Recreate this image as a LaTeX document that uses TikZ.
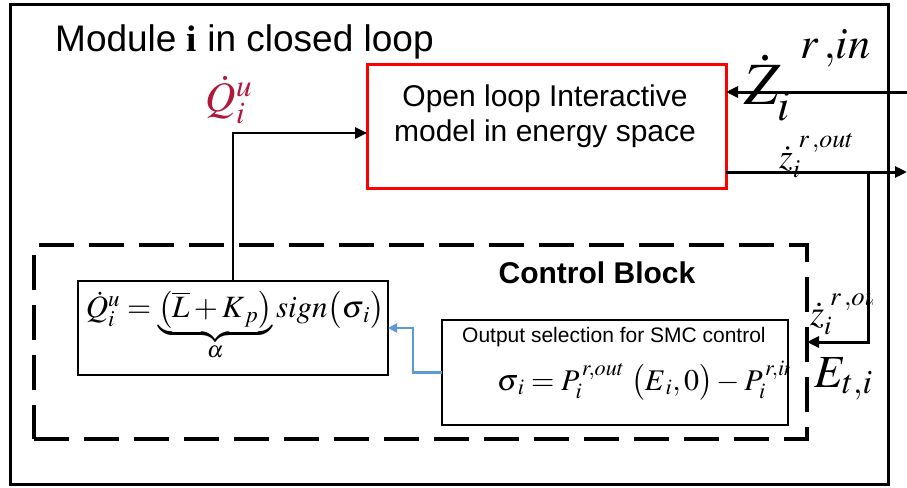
\documentclass[tikz,border=0pt]{standalone}
\usepackage{mathptmx}
\usepackage[no-math]{fontspec}
\setmainfont{Liberation Sans}
\newfontfamily\serifbf{Liberation Serif}
\usetikzlibrary{arrows.meta}
\definecolor{qred}{RGB}{176,24,58}
\definecolor{sblue}{RGB}{91,155,213}
\newcommand{\hisup}[2]{\raisebox{#1}{$\scriptstyle #2$}}
\begin{document}
\begin{tikzpicture}[x=1pt,y=-1pt,
  box/.style={draw, inner sep=0pt, outer sep=0pt, line width=2.5pt},
  arr/.style={line width=2.5pt, -{Triangle[length=12pt,width=11pt]}},
  bluearr/.style={draw=sblue, line width=2.5pt, -{Triangle[length=9pt,width=9pt]}}]
\useasboundingbox (0,0) rectangle (907,487);

\node[draw, line width=3pt, inner sep=0pt, outer sep=0pt, minimum width=878pt, minimum height=479pt] (module) at (449,244.5) {};
\node[anchor=base west, inner sep=0pt, font=\fontsize{37}{44}\selectfont] (title) at (55,52) {Module {\serifbf\bfseries i} in closed loop};

\node[draw=red, line width=3pt, inner sep=0pt, outer sep=0pt, minimum width=359pt, minimum height=123pt] (model) at (546.5,126.5) {};
\node[align=center, inner sep=0pt, font=\fontsize{30}{35}\selectfont] (modeltxt) at (545,116) {Open loop Interactive\\model in energy space};

\node[draw, dash pattern=on 35pt off 15pt, line width=4pt, inner sep=0pt, outer sep=0pt, minimum width=773pt, minimum height=194pt] (ctrl) at (420.5,342) {};
\node[anchor=base, inner sep=0pt, font=\bfseries\fontsize{30}{36}\selectfont] (ctrltxt) at (597,283) {Control Block};

\node[box, minimum width=310pt, minimum height=94pt] (law) at (233,328) {};
\node[inner sep=0pt, font=\fontsize{31}{36}\selectfont] (lawtxt) at (235,326) {$\dot{Q}_i^{u} = \underbrace{\bigl(\overline{L}+K_{\,p}\bigr)}_{\alpha} sign\bigl(\sigma_{\,i}\bigr)$};

\node[box, minimum width=346pt, minimum height=105pt] (sel) at (615,372.5) {};
\node[anchor=base west, inner sep=0pt, font=\fontsize{21}{25}\selectfont] (seltxt) at (462,342) {Output selection for SMC control};
\begin{scope}
\clip (450,350) rectangle (789,420);
\node[anchor=base west, inner sep=0pt, font=\fontsize{30}{34}\selectfont] (sigma) at (497,390) {$\sigma_{\,i} = P_i^{\,r,out}\;\bigl(E_{\,i},0\bigr)-P_i^{\,r,in}$};
\end{scope}

\node[inner sep=0pt, text=qred, font=\fontsize{42}{48}\selectfont] (qlab) at (229,100) {$\dot{Q}_i^{u}$};
\node[anchor=base west, inner sep=0pt, font=\fontsize{60}{66}\selectfont] (zinlab) at (744,104) {$\dot{Z}_i^{\;\;\hisup{24pt}{r\,,in}}$};
\node[anchor=base west, inner sep=0pt, font=\fontsize{35}{38}\selectfont] (zoutlab) at (779,168) {$\dot{z}_i^{\;\hisup{8pt}{r\,,out}}$};
\begin{scope}
\clip (800,270) rectangle (872,340);
\node[anchor=base west, inner sep=0pt, font=\fontsize{36}{40}\selectfont] (zoutlabb) at (810,325) {$\dot{z}_i^{\;\hisup{6pt}{r\,,out}}$};
\end{scope}
\node[anchor=base west, inner sep=0pt, font=\fontsize{46}{50}\selectfont] (elab) at (814,387) {$E_{t,i}$};

\coordinate (inend) at (907,92);
\coordinate (outend) at (907,172);
\coordinate (branch) at (868,172);
\coordinate (bend) at (413,0);

\draw[arr] (law.north) |- ([yshift=-6.5pt]model.west);
\draw[arr, line width=3pt] (inend) -- (inend -| model.east);
\draw[arr, line width=3pt] (outend -| model.east) -- (outend);
\draw[arr, line width=3pt] (branch) |- (ctrl.east);
\draw[bluearr] (sel.west) -| (bend |- law.east) -- (law.east);
\end{tikzpicture}
\end{document}
